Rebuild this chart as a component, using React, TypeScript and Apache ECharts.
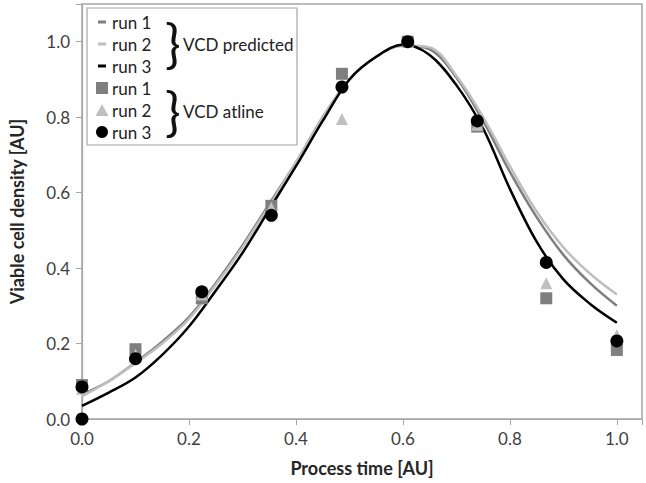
import React, { useEffect, useRef } from "react";
import * as echarts from "echarts";

// Predicted VCD curves (model output), sampled along process time
const predTime = [0, 0.05, 0.1, 0.15, 0.2, 0.25, 0.3, 0.35, 0.4, 0.45, 0.5, 0.55, 0.6, 0.65, 0.7, 0.75, 0.8, 0.85, 0.9, 0.95, 1.0];
const predRun1 = [0.065, 0.1, 0.15, 0.205, 0.27, 0.36, 0.46, 0.57, 0.68, 0.8, 0.9, 0.96, 0.99, 0.98, 0.905, 0.79, 0.655, 0.535, 0.435, 0.36, 0.3];
const predRun2 = [0.06, 0.1, 0.148, 0.2, 0.265, 0.355, 0.455, 0.565, 0.68, 0.8, 0.9, 0.96, 0.99, 0.985, 0.91, 0.8, 0.67, 0.55, 0.455, 0.385, 0.33];
const predRun3 = [0.035, 0.07, 0.11, 0.17, 0.245, 0.34, 0.44, 0.555, 0.67, 0.79, 0.9, 0.96, 0.992, 0.965, 0.885, 0.77, 0.61, 0.47, 0.37, 0.305, 0.255];

// Atline measurements
const atTime = [0, 0.1, 0.224, 0.354, 0.486, 0.609, 0.739, 0.868, 1.0];
const atRun1 = [0.09, 0.185, 0.32, 0.565, 0.915, 1.0, 0.775, 0.32, 0.183];
const atRun2 = [0.08, 0.17, 0.33, 0.56, 0.795, 1.0, 0.78, 0.36, 0.222];
const atRun3Time = [0, 0, 0.1, 0.224, 0.354, 0.486, 0.609, 0.739, 0.868, 1.0];
const atRun3 = [0.085, 0.0, 0.16, 0.337, 0.54, 0.88, 1.0, 0.79, 0.415, 0.207];

const xTicks = [0, 0.2, 0.4, 0.6, 0.8, 1.0];
const yTicks = [0, 0.2, 0.4, 0.6, 0.8, 1.0];

const FONT = "Lato";
const C_DARK = "#7f7f7f";
const C_LIGHT = "#bfbfbf";
const C_BLACK = "#000000";
const AXIS_GRAY = "#a6a6a6";

function zip(xs: number[], ys: number[]) {
  return xs.map((x, i) => [x, ys[i]]);
}

function tickFormatter(ticks: number[]) {
  return (v: number) => (ticks.some((t) => Math.abs(t - v) < 1e-6) ? v.toFixed(1) : "");
}

export default function App() {
  const ref = useRef<HTMLDivElement>(null);
  useEffect(() => {
    if (!ref.current) return;
    const chart = echarts.init(ref.current, null, { renderer: "svg" });

    const rowY = [22, 44, 66, 88, 110, 132];
    const labelText = (y: number, i: number) => ({
      type: "text",
      x: 112,
      y,
      z: 11,
      style: { text: "run " + ((i % 3) + 1), fontFamily: FONT, fontSize: 17, fill: "#222", textVerticalAlign: "middle", textAlign: "left" },
    });

    const legend: any[] = [
      { type: "rect", shape: { x: 87, y: 8, width: 210, height: 137 }, style: { fill: "#fff", stroke: AXIS_GRAY, lineWidth: 1.2 }, z: 10 },
      { type: "line", shape: { x1: 98, y1: rowY[0], x2: 106, y2: rowY[0] }, style: { stroke: C_DARK, lineWidth: 3 }, z: 11 },
      { type: "line", shape: { x1: 98, y1: rowY[1], x2: 106, y2: rowY[1] }, style: { stroke: C_LIGHT, lineWidth: 3 }, z: 11 },
      { type: "line", shape: { x1: 98, y1: rowY[2], x2: 106, y2: rowY[2] }, style: { stroke: C_BLACK, lineWidth: 3 }, z: 11 },
      { type: "rect", shape: { x: 96, y: rowY[3] - 6, width: 12, height: 12 }, style: { fill: C_DARK }, z: 11 },
      { type: "polygon", shape: { points: [[102, rowY[4] - 6], [108.5, rowY[4] + 6], [95.5, rowY[4] + 6]] }, style: { fill: C_LIGHT }, z: 11 },
      { type: "circle", shape: { cx: 102, cy: rowY[5], r: 6 }, style: { fill: C_BLACK }, z: 11 },
      ...rowY.map((y, i) => labelText(y, i)),
      { type: "text", x: 165, y: 42, style: { text: "}", fontFamily: FONT, fontSize: 52, fill: "#111", textVerticalAlign: "middle" }, z: 11 },
      { type: "text", x: 165, y: 110, style: { text: "}", fontFamily: FONT, fontSize: 52, fill: "#111", textVerticalAlign: "middle" }, z: 11 },
      { type: "text", x: 183, y: 44, style: { text: "VCD predicted", fontFamily: FONT, fontSize: 17, fill: "#222", textVerticalAlign: "middle" }, z: 11 },
      { type: "text", x: 183, y: 111, style: { text: "VCD atline", fontFamily: FONT, fontSize: 17, fill: "#222", textVerticalAlign: "middle" }, z: 11 },
    ];

    const lineSeries = (name: string, data: number[], color: string, z: number) => ({
      name,
      type: "line",
      data: zip(predTime, data),
      smooth: 0.35,
      showSymbol: false,
      symbol: "none",
      lineStyle: { color, width: 2.5 },
      z,
    });

    chart.setOption({
      animation: false,
      backgroundColor: "#fff",
      textStyle: { fontFamily: FONT },
      grid: { left: 80, right: 4, top: 4, bottom: 64, show: true, borderColor: AXIS_GRAY, borderWidth: 1.5, backgroundColor: "transparent" },
      xAxis: {
        type: "value",
        min: 0,
        max: 1.047,
        interval: 0.2,
        name: "Process time [AU]",
        nameLocation: "middle",
        nameGap: 40,
        nameTextStyle: { fontFamily: FONT, fontSize: 18, fontWeight: "bold", color: "#262626" },
        axisLine: { show: true, lineStyle: { color: AXIS_GRAY, width: 1.2 } },
        axisTick: { show: true, length: 6, lineStyle: { color: AXIS_GRAY } },
        axisLabel: { formatter: tickFormatter(xTicks), fontFamily: FONT, fontSize: 17, color: "#404040", margin: 11 },
        splitLine: { show: false },
      },
      yAxis: {
        type: "value",
        min: 0,
        max: 1.1,
        interval: 0.2,
        name: "Viable cell density [AU]",
        nameLocation: "middle",
        nameGap: 56,
        nameTextStyle: { fontFamily: FONT, fontSize: 18, fontWeight: "bold", color: "#262626" },
        axisLine: { show: true, lineStyle: { color: AXIS_GRAY, width: 1.2 } },
        axisTick: { show: true, length: 6, lineStyle: { color: AXIS_GRAY } },
        axisLabel: { formatter: tickFormatter(yTicks), fontFamily: FONT, fontSize: 17, color: "#404040", margin: 12 },
        splitLine: { show: false },
      },
      graphic: legend,
      series: [
        lineSeries("run 1 predicted", predRun1, C_DARK, 2),
        lineSeries("run 2 predicted", predRun2, C_LIGHT, 2),
        lineSeries("run 3 predicted", predRun3, C_BLACK, 3),
        { name: "run 1 atline", type: "scatter", data: zip(atTime, atRun1), symbol: "rect", symbolSize: 12, itemStyle: { color: C_DARK, opacity: 1 }, z: 4 },
        { name: "run 2 atline", type: "scatter", data: zip(atTime, atRun2), symbol: "triangle", symbolSize: 12, itemStyle: { color: C_LIGHT, opacity: 1 }, z: 4 },
        { name: "run 3 atline", type: "scatter", data: zip(atRun3Time, atRun3), symbol: "circle", symbolSize: 13, itemStyle: { color: C_BLACK, opacity: 1 }, z: 5 },
      ],
    });
    return () => chart.dispose();
  }, []);
  return <div ref={ref} style={{ width: 646, height: 483, position: "absolute", left: 0, top: 0 }} />;
}
